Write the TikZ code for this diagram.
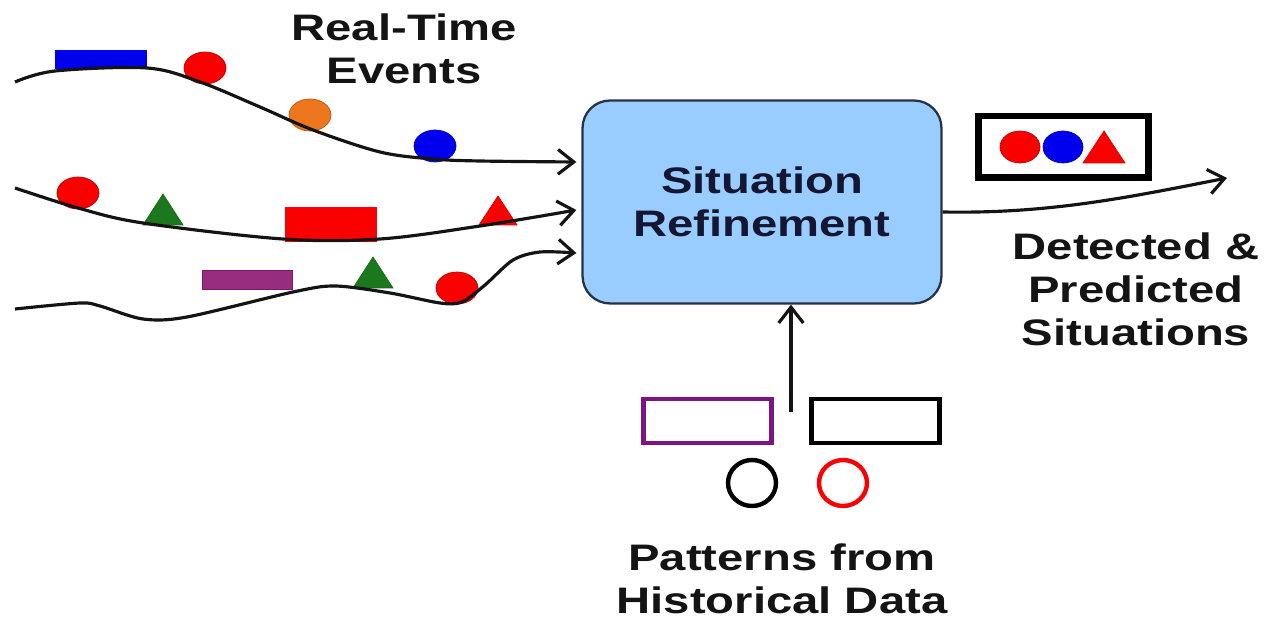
\documentclass[tikz,border=0pt]{standalone}
\usepackage{graphicx}
\usepackage{fontspec}
\setmainfont{Liberation Sans}
\usetikzlibrary{arrows.meta,shapes.geometric,calc}

\definecolor{evred}{RGB}{250,0,0}
\definecolor{evblue}{RGB}{0,0,238}
\definecolor{evorange}{RGB}{238,118,30}
\definecolor{evgreen}{RGB}{28,120,28}
\definecolor{evpurple}{RGB}{150,45,125}
\definecolor{ptpurple}{RGB}{125,20,130}
\definecolor{boxfill}{RGB}{153,204,255}
\definecolor{boxline}{RGB}{40,50,70}
\definecolor{navyink}{RGB}{20,22,50}
\definecolor{ink}{RGB}{20,20,20}

% wide bold lettering
\newcommand{\wtext}[1]{\scalebox{1.28}[1]{#1}}

\begin{document}
\begin{tikzpicture}[x=0.02cm,y=-0.02cm,
  flow/.style={line width=1.8pt, ink,
    -{Straight Barb[length=9pt,width=14pt,line width=1.8pt]}},
  lbl/.style={align=center, inner sep=0pt, text=ink,
    font=\bfseries\fontsize{21}{24.5}\selectfont},
  mainbox/.style={rectangle, rounded corners=0.55cm, fill=boxfill,
    draw=boxline, line width=1.3pt, minimum width=7.18cm,
    minimum height=4.06cm, align=center, text=navyink,
    font=\bfseries\fontsize{21}{24.5}\selectfont},
  blob/.style={ellipse, inner sep=0pt, minimum width=0.84cm,
    minimum height=0.64cm, fill=#1, draw=#1!75!black, line width=0.4pt},
  bar/.style={rectangle, inner sep=0pt, fill=#1},
  tri/.style={fill=#1, draw=#1!85!black, line width=0.4pt},
  pattern/.style={rectangle, inner sep=0pt, draw=#1, line width=2.8pt,
    minimum width=2.55cm, minimum height=0.88cm},
  ring/.style={ellipse, inner sep=0pt, draw=#1, line width=2.5pt,
    minimum width=0.96cm, minimum height=0.92cm}
]
\useasboundingbox (0,0) rectangle (1269,621);

% ---- central processing block
\node[mainbox] (sr) at (762,202) {\wtext{Situation}\\\wtext{Refinement}};

% ---- event tokens on the incoming streams
\node[bar=evblue, minimum width=1.84cm, minimum height=0.38cm] (b1) at (101,59.5) {};
\node[blob=evred] (c1) at (205,68) {};
\node[blob=evorange] (c2) at (310,115) {};
\node[blob=evblue] (c3) at (435,146) {};

\node[blob=evred] (c4) at (78,193) {};
\filldraw[tri=evgreen] (163,194) -- ++(20,31) -- ++(-40,0) -- cycle;
\node[bar=evred, minimum width=1.84cm, minimum height=0.70cm] (b2) at (331,224.5) {};
\filldraw[tri=evred] (498,196) -- ++(19,29) -- ++(-38,0) -- cycle;

\node[bar=evpurple, draw=ptpurple, line width=1pt, minimum width=1.80cm,
  minimum height=0.38cm] (b3) at (247.5,280) {};
\filldraw[tri=evgreen] (373,257) -- ++(20,31) -- ++(-40,0) -- cycle;
\node[blob=evred] (c5) at (457,288) {};

% ---- stream start points
\coordinate (s1) at (15,82);
\coordinate (s2) at (15,188);
\coordinate (s3) at (15,309);

% ---- incoming event streams
\draw[flow] plot[smooth, tension=0.55] coordinates {(s1) (55,71) (147,68)
  (200,82) (260,107) (313,130) (380,152) (433,159) (480,161)
  ($(sr.west)+(-5,-40)$)};
\draw[flow] plot[smooth, tension=0.55] coordinates {(s2) (78,208) (143,223)
  (283,239) (380,239) (480,226) ($(sr.west)+(-5,8)$)};
\draw[flow] plot[smooth, tension=0.5] coordinates {(s3) (80,303) (100,306)
  (143,319) (187,317) (293,292) (335,286) (390,293) (440,303) (462,302)
  (485,285) (513,260) (540,252) ($(sr.west)+(-5,51)$)};

% ---- outgoing situations
\coordinate (out) at (1227,178);
\draw[flow] ($(sr.east)+(0,10)$) .. controls (1050,214) and (1130,197) .. (out);
\node[rectangle, draw=black, line width=3.9pt, minimum width=3.40cm,
  minimum height=1.23cm, inner sep=0pt] (res) at (1063.5,146.8) {};
\node[blob=evred, minimum width=0.80cm] (r1) at (1020,147) {};
\node[blob=evblue, minimum width=0.80cm] (r2) at (1063,147) {};
\filldraw[tri=evred] (1104,131) -- ++(21,32) -- ++(-42,0) -- cycle;

% ---- historical patterns feeding the block
\node[pattern=ptpurple] (p1) at (707.5,421) {};
\node[pattern=black] (p2) at (875.5,421) {};
\node[ring=black] (p3) at (752,483) {};
\node[ring=evred] (p4) at (843,483) {};
\coordinate (hist) at (791,412);
\draw[flow] (hist) -- ($(sr.south)+(29,0)$);

% ---- captions
\node[lbl] (rte) at (404,49) {\wtext{Real-Time}\\\wtext{Events}};
\node[lbl] (dps) at (1136,289) {\wtext{Detected \&}\\\wtext{Predicted}\\\wtext{Situations}};
\node[lbl] (phd) at (782,579) {\wtext{Patterns from}\\\wtext{Historical Data}};
\end{tikzpicture}
\end{document}
